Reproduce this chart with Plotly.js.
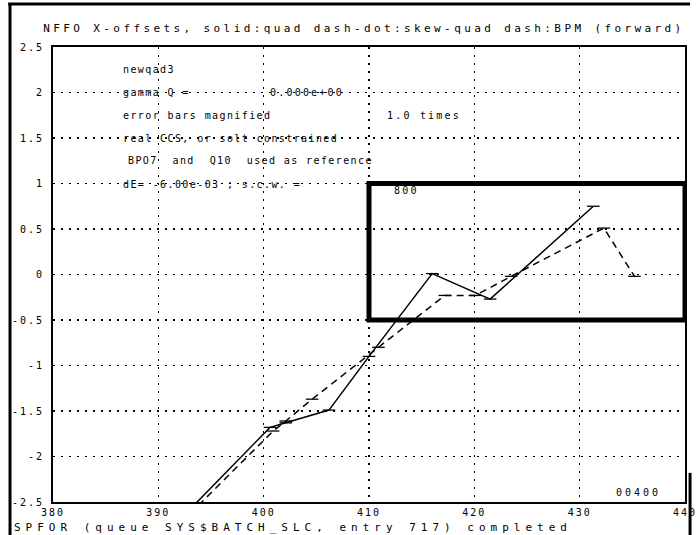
<!DOCTYPE html>
<html><head><meta charset="utf-8">
<script src="https://cdn.plot.ly/plotly-3.0.1.min.js"></script>
<style>
html,body{margin:0;padding:0;background:#fff;}
.xtick text, .ytick text { letter-spacing: 2px; }
</style></head>
<body><div id="chart" style="width:697px;height:535px;"></div>
<script>
// ---- data ----
const quadX = [392.5, 400.6, 402.1, 406.2, 410.0, 416.0, 421.5, 431.3];
const quadY = [-2.64, -1.68, -1.63, -1.49, -0.90, 0.01, -0.27, 0.75];
const bpmX  = [393.0, 400.9, 402.1, 404.6, 410.9, 417.2, 420.1, 423.5, 432.3, 435.2];
const bpmY  = [-2.63, -1.72, -1.61, -1.37, -0.80, -0.23, -0.23, -0.02, 0.51, -0.02];
const xTickVals = [380, 390, 400, 410, 420, 430, 440];
const yTickVals = [-2.5, -2, -1.5, -1, -0.5, 0, 0.5, 1, 1.5, 2, 2.5];
const yTickText = ["-2.5", "-2", "-1.5", "-1", "-0.5", "0", "0.5", "1", "1.5", "2", "2.5"];
const titleText = "NFFO X-offsets, solid:quad dash-dot:skew-quad dash:BPM (forward)";
const infoLines = ["newqad3", "gamma Q =", "error bars magnified",
  "real CCS, or solt constrained", "BPO7\u00a0\u00a0and\u00a0\u00a0Q10\u00a0\u00a0used as reference",
  "dE= -6.00e-03 ; s.c.w. ="];
const infoValues = ["0.000e+00", "1.0 times", "800"];
const cornerLabel = "00400";
const footerText = "SPFOR (queue SYS$BATCH_SLC, entry 717) completed";
const boxX = [410, 440];
const boxY = [-0.5, 1.0];

// ---- build ----
const mono = "DejaVu Sans Mono, monospace";
const sp = (t, ls) => '<span style="letter-spacing:' + ls + 'px">' + t + '</span>';

const traces = [
  {x: quadX, y: quadY, type: 'scatter', mode: 'lines+markers',
   line: {color: '#000', width: 1.5},
   marker: {symbol: 'line-ew', size: 9, line: {color: '#000', width: 1.3}},
   hoverinfo: 'skip', showlegend: false},
  {x: bpmX, y: bpmY, type: 'scatter', mode: 'lines+markers',
   line: {color: '#000', width: 1.5, dash: '7px,5px'},
   marker: {symbol: 'line-ew', size: 9, line: {color: '#000', width: 1.3}},
   hoverinfo: 'skip', showlegend: false}
];

const infoYs = [2.25, 2.0, 1.75, 1.5, 1.25, 0.99];
const infoXs = [386.5, 386.5, 386.5, 386.5, 386.9, 386.5];
const annFont = {family: mono, size: 10, color: '#000'};
const annotations = [];
infoLines.forEach((t, i) => annotations.push({
  x: infoXs[i], y: infoYs[i], xref: 'x', yref: 'y', text: sp(t, 1.4),
  showarrow: false, xanchor: 'left', yanchor: 'middle', font: annFont}));
const valPos = [[400.4, 2.0], [411.5, 1.75], [412.2, 0.92]];
infoValues.forEach((t, i) => annotations.push({
  x: valPos[i][0], y: valPos[i][1], xref: 'x', yref: 'y', text: sp(t, 2.2),
  showarrow: false, xanchor: 'left', yanchor: 'middle', font: annFont}));
annotations.push({x: 433.3, y: -2.40, xref: 'x', yref: 'y', text: sp(cornerLabel, 3),
  showarrow: false, xanchor: 'left', yanchor: 'middle', font: annFont});
annotations.push({x: -0.065, y: -0.057, xref: 'paper', yref: 'paper', text: sp(footerText, 5),
  showarrow: false, xanchor: 'left', yanchor: 'middle', font: {family: mono, size: 11, color: '#000'}});

const shapes = [
  {type: 'rect', xref: 'x', yref: 'y', x0: boxX[0], x1: boxX[1], y0: boxY[0], y1: boxY[1],
   line: {color: '#000', width: 5}, fillcolor: 'rgba(0,0,0,0)', layer: 'above'},
  {type: 'line', xref: 'paper', yref: 'paper', x0: -0.071, x1: 1.008, y0: 1.0945, y1: 1.0945,
   line: {color: '#000', width: 3}},
  {type: 'line', xref: 'paper', yref: 'paper', x0: -0.068, x1: -0.068, y0: 1.0945, y1: -0.08,
   line: {color: '#000', width: 3}},
  {type: 'line', xref: 'paper', yref: 'paper', x0: 1.008, x1: 1.008, y0: 0.064, y1: -0.08,
   line: {color: '#000', width: 3}}
];

const axisCommon = {
  showline: true, mirror: true, linecolor: '#000', linewidth: 2,
  showgrid: true, gridcolor: '#000', gridwidth: 1.5, griddash: '2px,6px',
  zeroline: false, ticks: '', tickfont: {family: mono, size: 10, color: '#000'}
};

const layout = {
  width: 697, height: 535,
  margin: {l: 53, r: 12, t: 47, b: 33},
  paper_bgcolor: '#fff', plot_bgcolor: '#fff',
  title: {text: sp(titleText, 3.4), x: 0.062, xref: 'container', xanchor: 'left',
          y: 0.948, yref: 'container', yanchor: 'middle',
          font: {family: mono, size: 11, color: '#000'}},
  xaxis: Object.assign({}, axisCommon, {range: [380, 440], tickvals: xTickVals, ticklabelstandoff: 0, ticklabeloverflow: 'allow'}),
  yaxis: Object.assign({}, axisCommon, {range: [-2.5, 2.5], tickvals: yTickVals, ticktext: yTickText, ticklabelstandoff: 5}),
  annotations: annotations,
  shapes: shapes,
  showlegend: false
};

Plotly.newPlot('chart', traces, layout, {staticPlot: true, displayModeBar: false});
</script>
</body></html>
